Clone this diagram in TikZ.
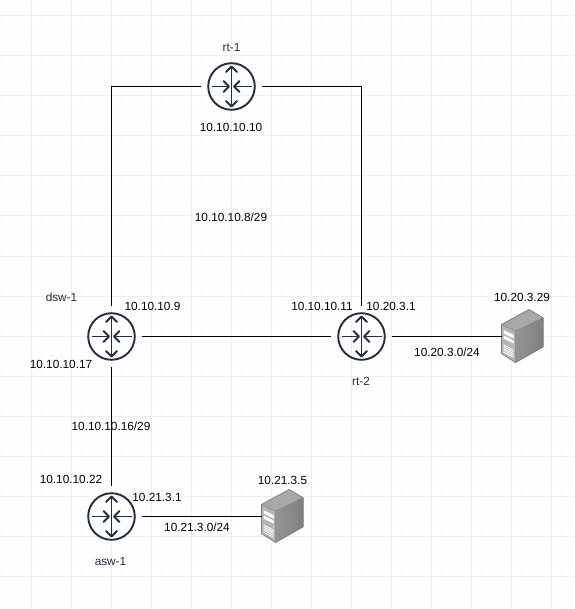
\documentclass[tikz,border=0pt]{standalone}
\usepackage{fontspec}
\setmainfont{Liberation Sans}
\definecolor{ink}{HTML}{232F3E}
\definecolor{gridmajor}{HTML}{EEEEEE}
\definecolor{gridminor}{HTML}{FAFAFA}
\definecolor{srvtop}{HTML}{A8A8A8}
\definecolor{srvfront}{HTML}{B4B4B4}
\definecolor{srvsideA}{HTML}{959595}
\definecolor{srvsideB}{HTML}{7F7F7F}
\definecolor{srvedge}{HTML}{808080}
\tikzset{
  routerbox/.style={circle,minimum size=60pt,inner sep=0pt,draw=none},
  serverbox/.style={rectangle,minimum width=42pt,minimum height=53pt,inner sep=0pt,draw=none},
  iplabel/.style={font=\fontsize{11.8pt}{14pt}\selectfont,text=black,inner sep=0pt},
  namelabel/.style={font=\fontsize{11.8pt}{14pt}\selectfont,text=ink,inner sep=0pt},
  link/.style={draw=black,line width=1pt},
  glyph/.style={draw=ink,line width=1.9pt},
  chev/.style={draw=ink,line width=1.9pt,line cap=round,line join=round}
}
\newcommand{\routerat}[3]{%
  \node[routerbox] (#1) at (#2,#3) {};
  \begin{scope}[shift={(#2,#3)}]
    \draw[glyph] (0,0) circle (23.3);
    \draw[glyph] (0,-19) -- (0,19);
    \draw[glyph] (-20,0) -- (-3,0);
    \draw[glyph] (20,0) -- (3,0);
    \draw[chev] (-5.5,-14.5) -- (0,-20) -- (5.5,-14.5);
    \draw[chev] (-5.5,14.5) -- (0,20) -- (5.5,14.5);
    \draw[chev] (-8,-5.5) -- (-2.5,0) -- (-8,5.5);
    \draw[chev] (8,-5.5) -- (2.5,0) -- (8,5.5);
  \end{scope}}
\newcommand{\serverat}[3]{%
  \node[serverbox,anchor=north west] (#1) at (#2,#3) {};
  \begin{scope}[shift={(#2,#3)},line join=round]
    \fill[left color=srvsideA,right color=srvsideB] (14,21.7) -- (41.7,8.3) -- (41.7,37.3) -- (14,53) -- cycle;
    \fill[srvtop] (0,15) -- (27.5,0) -- (41.7,8.3) -- (14,21.7) -- cycle;
    \fill[srvfront] (0,15) -- (14,21.7) -- (14,53) -- (0,44) -- cycle;
    \fill[white] (2,20.5) -- (12,25.5) -- (12,29) -- (2,24) -- cycle;
    \fill[white] (2,26) -- (12,31) -- (12,34) -- (2,29) -- cycle;
    \foreach \d in {0,1.8,3.6,5.4,7.2}
      \draw[white,line width=.8pt] (2,35.5+\d) -- (12,40.5+\d);
    \draw[srvedge,line width=.8pt] (0,15) -- (27.5,0) -- (41.7,8.3) -- (41.7,37.3) -- (14,53) -- (0,44) -- cycle;
    \draw[srvedge,line width=.5pt] (0,15) -- (14,21.7) -- (41.7,8.3) (14,21.7) -- (14,53);
  \end{scope}}
\begin{document}
\begin{tikzpicture}[x=1pt,y=-1pt]
\useasboundingbox (0,0) rectangle (574,609);
\fill[white] (0,0) rectangle (574,609);
\foreach \x in {1,11,...,571} \draw[gridminor,line width=1pt] (\x,0) -- (\x,609);
\foreach \y in {6,16,...,606} \draw[gridminor,line width=1pt] (0,\y) -- (574,\y);
\foreach \x in {31,71,...,571} \draw[gridmajor,line width=1pt] (\x,0) -- (\x,609);
\foreach \y in {16,56,...,606} \draw[gridmajor,line width=1pt] (0,\y) -- (574,\y);

\routerat{rt1}{231.5}{86.5}
\routerat{dsw}{111.5}{336.5}
\routerat{rt2}{361.5}{336.5}
\routerat{asw}{111.5}{516.5}
\serverat{srv1}{501.5}{309.5}
\serverat{srv2}{261.5}{489.5}

\draw[link] (rt1.west) -| (dsw.north);
\draw[link] (rt1.east) -| (rt2.north);
\draw[link] (dsw.east) -- (rt2.west);
\draw[link] (dsw.south) -- (asw.north);
\draw[link] (rt2.east) -- (rt2.east -| srv1.west);
\draw[link] (asw.east) -- (asw.east -| srv2.west);

\node[namelabel] (l1) at (231.5,47.5) {rt-1};
\node[iplabel] (l2) at (231,127) {10.10.10.10};
\node[iplabel] (l3) at (231,217) {10.10.10.8/29};
\node[namelabel] (l4) at (61.5,297) {dsw-1};
\node[iplabel] (l5) at (152.5,306.5) {10.10.10.9};
\node[iplabel] (l6) at (61,364) {10.10.10.17};
\node[iplabel] (l7) at (322,306.5) {10.10.10.11};
\node[iplabel] (l8) at (391,306.5) {10.20.3.1};
\node[namelabel] (l9) at (361,381) {rt-2};
\node[iplabel] (l10) at (522,297) {10.20.3.29};
\node[iplabel] (l11) at (447,352) {10.20.3.0/24};
\node[iplabel] (l12) at (111,426) {10.10.10.16/29};
\node[iplabel] (l13) at (71,479.5) {10.10.10.22};
\node[iplabel] (l14) at (157,497) {10.21.3.1};
\node[namelabel] (l15) at (110.5,561) {asw-1};
\node[iplabel] (l16) at (282.5,480) {10.21.3.5};
\node[iplabel] (l17) at (197,527) {10.21.3.0/24};
\end{tikzpicture}
\end{document}
